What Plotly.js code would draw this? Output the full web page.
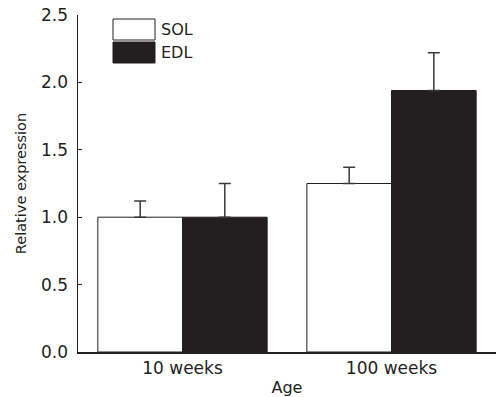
<!DOCTYPE html>
<html><head><meta charset="utf-8">
<script src="https://cdn.plot.ly/plotly-3.0.1.min.js"></script>
<style>body{margin:0;background:#fff}#c{width:496px;height:397px}</style>
</head><body><div id="c"></div>
<script>
var categories = ["10 weeks", "100 weeks"];
var solValues = [1.0, 1.25];
var solErrors = [0.12, 0.12];
var edlValues = [1.0, 1.94];
var edlErrors = [0.25, 0.28];
var seriesNames = ["SOL", "EDL"];
var yTicks = [0, 0.5, 1.0, 1.5, 2.0, 2.5];
var yTickLabels = ["0.0", "0.5", "1.0", "1.5", "2.0", "2.5"];

var font = "DejaVu Sans, sans-serif";
var ink = "#231f20";
var traces = [
  {type:"bar", name:seriesNames[0], x:categories, y:solValues,
   marker:{color:"#ffffff", line:{color:ink, width:1}},
   error_y:{type:"data", array:solErrors, arrayminus:[0,0], symmetric:false, color:"#3a3a3a", thickness:1.5, width:6}},
  {type:"bar", name:seriesNames[1], x:categories, y:edlValues,
   marker:{color:ink, line:{color:ink, width:1}},
   error_y:{type:"data", array:edlErrors, arrayminus:[0,0], symmetric:false, color:"#3a3a3a", thickness:1.5, width:6}}
];
var layout = {
  width:496, height:397,
  margin:{l:78, r:0, t:15, b:45},
  paper_bgcolor:"#fff", plot_bgcolor:"#fff",
  showlegend:false,
  barmode:"group", bargap:0.19, bargroupgap:0,
  font:{family:font, color:ink},
  xaxis:{type:"category", range:[-0.5,1.5], showline:true, linecolor:ink, linewidth:1.5,
    ticks:"", showgrid:false, zeroline:false, tickfont:{size:17, color:ink},
    title:{text:"Age", font:{size:16, color:ink}, standoff:5}},
  yaxis:{range:[0,2.5], tickvals:yTicks, ticktext:yTickLabels, showline:true, linecolor:ink, linewidth:1.5,
    ticks:"inside", ticklen:4, tickcolor:ink, tickwidth:1.2, showgrid:false, zeroline:false,
    tickfont:{size:17, color:ink}, ticklabelstandoff:5,
    title:{text:"Relative expression", font:{size:14.5, color:ink}, standoff:11}},
  shapes:[
    {type:"rect", xref:"paper", yref:"paper", x0:(113-78)/418, x1:(155-78)/418, y0:(352-40)/337, y1:(352-19)/337,
     fillcolor:"#ffffff", line:{color:ink, width:1}},
    {type:"rect", xref:"paper", yref:"paper", x0:(113-78)/418, x1:(155-78)/418, y0:(352-63)/337, y1:(352-42)/337,
     fillcolor:ink, line:{color:ink, width:1}}
  ],
  annotations:[
    {xref:"paper", yref:"paper", x:(159-78)/418, y:(352-29.5)/337, xanchor:"left", yanchor:"middle", showarrow:false,
     text:seriesNames[0], font:{size:16, color:ink}},
    {xref:"paper", yref:"paper", x:(159-78)/418, y:(352-52.5)/337, xanchor:"left", yanchor:"middle", showarrow:false,
     text:seriesNames[1], font:{size:16, color:ink}}
  ]
};
Plotly.newPlot("c", traces, layout, {displayModeBar:false, staticPlot:true});
</script></body></html>
